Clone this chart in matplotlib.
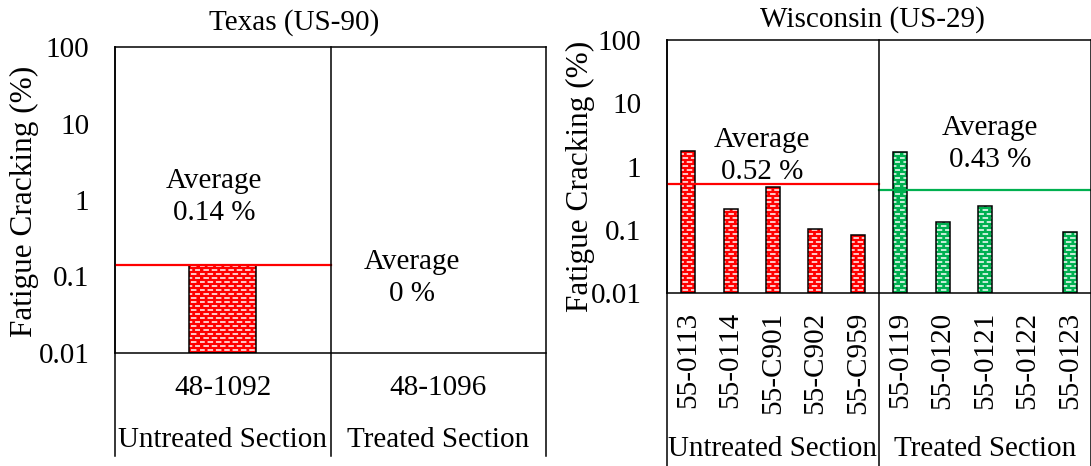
import matplotlib
matplotlib.use('Agg')
import matplotlib.pyplot as plt
import matplotlib.hatch as mhatch
import matplotlib.transforms as mtrans
from matplotlib.path import Path as mpl_path
import numpy as np

# Texas (US-90)
tx_sections = ['48-1092', '48-1096']
tx_values = [0.14, 0.0]
tx_groups = ['Untreated Section', 'Treated Section']
tx_avg = [0.14, 0.0]
tx_avg_text = ['Average\n0.14 %', 'Average\n0 %']

# Wisconsin (US-29)
wi_sections = ['55-0113', '55-0114', '55-C901', '55-C902', '55-C959',
               '55-0119', '55-0120', '55-0121', '55-0122', '55-0123']
wi_values = [1.75, 0.21, 0.48, 0.103, 0.082,
             1.71, 0.135, 0.236, 0.0, 0.093]
wi_groups = ['Untreated Section', 'Treated Section']
wi_avg = [0.52, 0.43]
wi_avg_text = ['Average\n0.52 %', 'Average\n0.43 %']

y_ticks = [0.01, 0.1, 1, 10, 100]
y_ticklabels = ['0.01', '0.1', '1', '10', '100']

RED = '#ff0000'
GREEN = '#00b050'


# brick-like short white dashes, replaces the plain '-' hatch
class BrickDashHatch(mhatch.HatchPatternBase):
    def __init__(self, hatch, density):
        self.rows = 25 if '-' in hatch else 0
        self.per_row = 12
        self.num_vertices = self.rows * self.per_row * 2

    def set_vertices_and_codes(self, vertices, codes):
        k = 0
        step = 1.0 / self.per_row
        dash = 0.04
        for r in range(self.rows):
            y = (r + 0.5) / self.rows
            off = 0 if r % 2 == 0 else step / 2
            for c in range(self.per_row):
                x0 = c * step + off
                vertices[k] = (x0, y)
                vertices[k + 1] = (x0 + dash, y)
                codes[k] = mpl_path.MOVETO
                codes[k + 1] = mpl_path.LINETO
                k += 2


mhatch._hatch_types[:] = [h for h in mhatch._hatch_types
                          if h is not mhatch.HorizontalHatch] + [BrickDashHatch]

plt.rcParams['font.family'] = 'Liberation Serif'
plt.rcParams['font.size'] = 21
plt.rcParams['hatch.linewidth'] = 1.1

W, H = 1091, 466
fig = plt.figure(figsize=(W / 100, H / 100), dpi=100)


def px_axes(left, top, right, bottom):
    return fig.add_axes([left / W, 1 - bottom / H, (right - left) / W, (bottom - top) / H])


def draw_chart(ax, sections, values, groups, avg, avg_text, colors, rotate,
               text_pos, id_y, group_y, table_bottom, bar_w):
    n = len(sections)
    per = n // 2
    x = np.arange(n) + 0.5
    vals = np.array(values)
    cols = np.array([colors[0]] * per + [colors[1]] * per)
    mask = vals > 0
    ax.set_yscale('log')
    ax.set_ylim(0.01, 100)
    ax.set_xlim(0, n)
    ax.bar(x[mask], vals[mask] - 0.01, bottom=0.01, width=bar_w,
           color=cols[mask], edgecolor='white', linewidth=0, hatch='-', zorder=2)
    ax.bar(x[mask], vals[mask] - 0.01, bottom=0.01, width=bar_w,
           fill=False, edgecolor='black', linewidth=1.1, zorder=3)

    for i in range(2):
        if avg[i] > 0:
            ax.plot([i * per, (i + 1) * per], [avg[i], avg[i]], color=colors[i], lw=1.6, zorder=4)
        tx, ty = text_pos[i]
        ax.text(tx, ty, avg_text[i], ha='center', va='center', linespacing=1.3, zorder=5)

    trans = mtrans.blended_transform_factory(ax.transData, ax.transAxes)
    for i, s in enumerate(sections):
        if rotate:
            ax.text(x[i], id_y, s, rotation=90, ha='center', va='top', transform=trans)
        else:
            ax.text(x[i], id_y, s, ha='center', va='center', transform=trans)
    for i, g in enumerate(groups):
        ax.text((i + 0.5) * per, group_y, g, ha='center', va='center', transform=trans)

    # divider and table lines
    for xv in range(0, n + 1, per):
        ax.axvline(xv, ymin=table_bottom, ymax=1, color='black', lw=1.1, clip_on=False, zorder=6)

    ax.set_yticks(y_ticks)
    ax.set_yticklabels(y_ticklabels)
    ax.yaxis.set_minor_locator(matplotlib.ticker.NullLocator())
    ax.tick_params(axis='y', length=0, pad=18.5)
    ax.set_xticks([])
    for sp in ax.spines.values():
        sp.set_linewidth(1.1)
    ax.spines['right'].set_visible(False)


# Texas
ax1 = px_axes(115, 47, 546, 353)
draw_chart(ax1, tx_sections, tx_values, tx_groups, tx_avg, tx_avg_text, [RED, RED], False,
           [(0.46, 1.1), (1.38, 0.095)], -0.114, -0.284, -0.337, 0.31)
fig.text(294 / W, 1 - 23 / H, 'Texas (US-90)', ha='center', va='center')
fig.text(24.5 / W, 1 - 201 / H, 'Fatigue Cracking (%)', rotation=90, ha='center', va='center',
         fontsize=22.5)

# Wisconsin
ax2 = px_axes(667, 40, 1091, 293)
draw_chart(ax2, wi_sections, wi_values, wi_groups, wi_avg, wi_avg_text, [RED, GREEN], True,
           [(2.24, 1.47), (7.62, 2.27)], -0.075, -0.617, -0.75, 0.33)
fig.text(872 / W, 1 - 20 / H, 'Wisconsin (US-29)', ha='center', va='center')
fig.text(580 / W, 1 - 176.5 / H, 'Fatigue Cracking (%)', rotation=90, ha='center', va='center',
         fontsize=22.5)

fig.savefig('out.png', dpi=100)
